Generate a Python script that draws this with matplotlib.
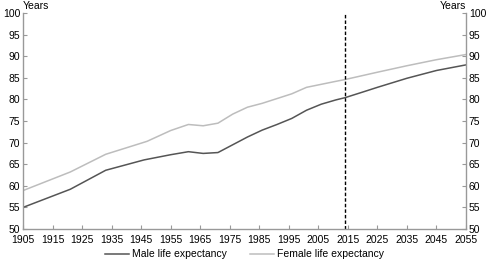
import matplotlib
matplotlib.use("Agg")
import matplotlib.pyplot as plt

# life expectancy at birth
male_years = [1905, 1921, 1933, 1946, 1955, 1961, 1966, 1971, 1976, 1981, 1986, 1991,
              1996, 2001, 2006, 2011, 2014, 2020, 2025, 2035, 2045, 2055]
male_le = [55.0, 59.2, 63.6, 66.0, 67.2, 67.9, 67.5, 67.7, 69.5, 71.3, 72.9, 74.2,
           75.6, 77.5, 78.9, 79.9, 80.4, 81.7, 82.8, 84.9, 86.7, 88.0]

female_years = [1905, 1921, 1933, 1947, 1955, 1961, 1966, 1971, 1976, 1981, 1986, 1991,
                1996, 2001, 2006, 2011, 2014, 2025, 2035, 2045, 2055]
female_le = [58.9, 63.2, 67.3, 70.3, 72.8, 74.2, 73.9, 74.5, 76.6, 78.2, 79.1, 80.2,
             81.3, 82.8, 83.5, 84.2, 84.6, 86.3, 87.8, 89.2, 90.4]

projection_start = 2014
x_ticks = list(range(1905, 2056, 10))
y_ticks = list(range(50, 101, 5))

plt.rcParams['font.family'] = ['Liberation Sans', 'DejaVu Sans']

fig = plt.figure(figsize=(4.9, 2.61), dpi=100)
ax = fig.add_axes([0.047, 0.1226, 0.904, 0.8274])

ax.plot(male_years, male_le, color='#555555', lw=1.1, label='Male life expectancy')
ax.plot(female_years, female_le, color='#bdbdbd', lw=1.1, label='Female life expectancy')
ax.axvline(projection_start, color='black', lw=1.0, ls=(0, (2.5, 1.5)))

ax.set_xlim(1905, 2055)
ax.set_ylim(50, 100)
ax.set_xticks(x_ticks)
ax.set_yticks(y_ticks)

for side in ['left', 'right', 'bottom']:
    ax.spines[side].set_color('#999999')
    ax.spines[side].set_linewidth(1.0)
ax.spines['top'].set_visible(False)

ax.tick_params(axis='both', direction='in', length=3, color='#999999',
               labelsize=7.5, pad=2)
ax.tick_params(axis='y', right=True, labelright=True)
ax.tick_params(axis='x', pad=4)

ax.text(0, 1.01, 'Years', transform=ax.transAxes, fontsize=7.5, ha='left', va='bottom')
ax.text(1, 1.01, 'Years', transform=ax.transAxes, fontsize=7.5, ha='right', va='bottom')

ax.legend(loc='upper center', bbox_to_anchor=(0.5, -0.075), ncol=2, frameon=False,
          fontsize=7.5, handlelength=2.3, handletextpad=0.3, columnspacing=2.2,
          borderaxespad=0)

fig.savefig('out.png', dpi=100)
